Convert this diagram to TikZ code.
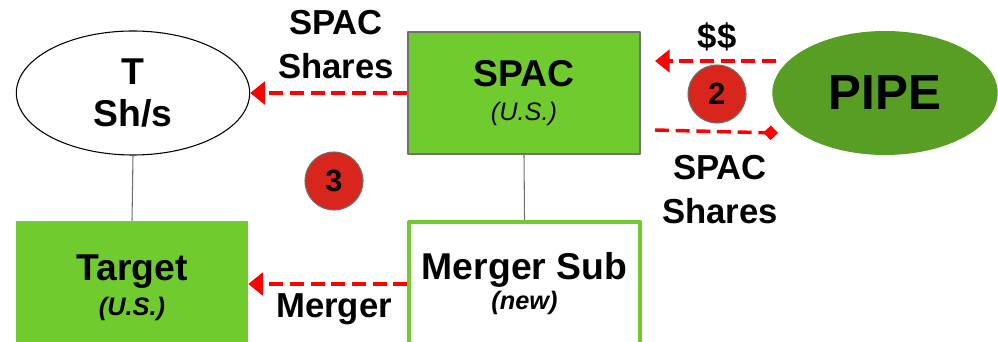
\documentclass[tikz,border=0pt]{standalone}
\usepackage{fontspec}
\setmainfont{Liberation Sans}
\usetikzlibrary{arrows.meta,shapes.geometric}
\definecolor{boxgreen}{HTML}{70CC2E}
\definecolor{pipegreen}{HTML}{589E25}
\definecolor{dotred}{HTML}{D9261C}
\definecolor{edgegray}{HTML}{707070}
\begin{document}
\begin{tikzpicture}[x=0.75pt, y=-0.75pt, line join=round,
  flow/.style={red, line width=2.6pt, dash pattern=on 10.5pt off 5pt},
  tip/.style={-{Triangle[length=11pt,width=17pt]}},
  link/.style={edgegray, line width=0.8pt},
  big/.style={font=\fontsize{28}{26}\selectfont\bfseries, align=center, inner sep=0pt},
  lbl/.style={font=\fontsize{26}{33}\selectfont\bfseries, align=center, inner sep=0pt},
  badge/.style={circle, fill=dotred, draw=edgegray, line width=0.8pt, minimum size=43.5pt,
    inner sep=0pt, font=\fontsize{23}{23}\selectfont\bfseries}]
\useasboundingbox (0,0) rectangle (998,342);
% entities
\node[ellipse, draw, line width=0.8pt, minimum width=175pt, minimum height=93pt,
  big, font=\fontsize{28}{32}\selectfont\bfseries] (tsh) at (133,93) {T\\Sh/s};
\node[fill=boxgreen, minimum width=174pt, minimum height=100.5pt, big] (target) at (132,288)
  {Target\\{\fontsize{19}{26}\selectfont\itshape (U.S.)}};
\node[fill=boxgreen, draw=edgegray, line width=1pt, minimum width=174pt, minimum height=91.5pt, big]
  (spac) at (524,93) {SPAC\\{\fontsize{19}{26}\selectfont\mdseries\itshape (U.S.)}};
\node[fill=white, draw=boxgreen, line width=3pt, minimum width=173pt, minimum height=93pt,
  big, font=\fontsize{28}{22.5}\selectfont\bfseries] (msub) at (524.5,284)
  {Merger Sub\\{\fontsize{19}{22.5}\selectfont\itshape (new)}};
\node[ellipse, fill=pipegreen, minimum width=169pt, minimum height=93pt, inner sep=0pt,
  font=\fontsize{37}{37}\selectfont\bfseries] (pipe) at (885,93) {PIPE};
% steps
\node[badge] (two) at (717,94) {2};
\node[badge] (three) at (334,181) {3};
% ownership lines
\draw[link] (tsh.south) -- (target.north);
\draw[link] (spac.south) -- (msub.north);
% flows
\path
(776,61) coordinate (cashout)
(655,61) coordinate (cashin)
(655,130) coordinate (sharesout)
(778,133) coordinate (sharesin)
;
\draw[flow, tip] (spac.west) -- (tsh.east);
\draw[flow, tip] (msub.west) -- (target.east |- msub.west);
\draw[flow, tip] (cashout) -- (cashin);
\draw[flow, -{Turned Square[length=11pt,width=11pt]}] (sharesout) -- (sharesin);
% labels
\node[lbl] (sharestop) at (336,45) {SPAC\\Shares};
\node[lbl] (cash) at (717,37) {\$\$};
\node[lbl] (sharesbot) at (720,190) {SPAC\\Shares};
\node[lbl] (merger) at (334,309) {Merger};
\end{tikzpicture}
\end{document}
